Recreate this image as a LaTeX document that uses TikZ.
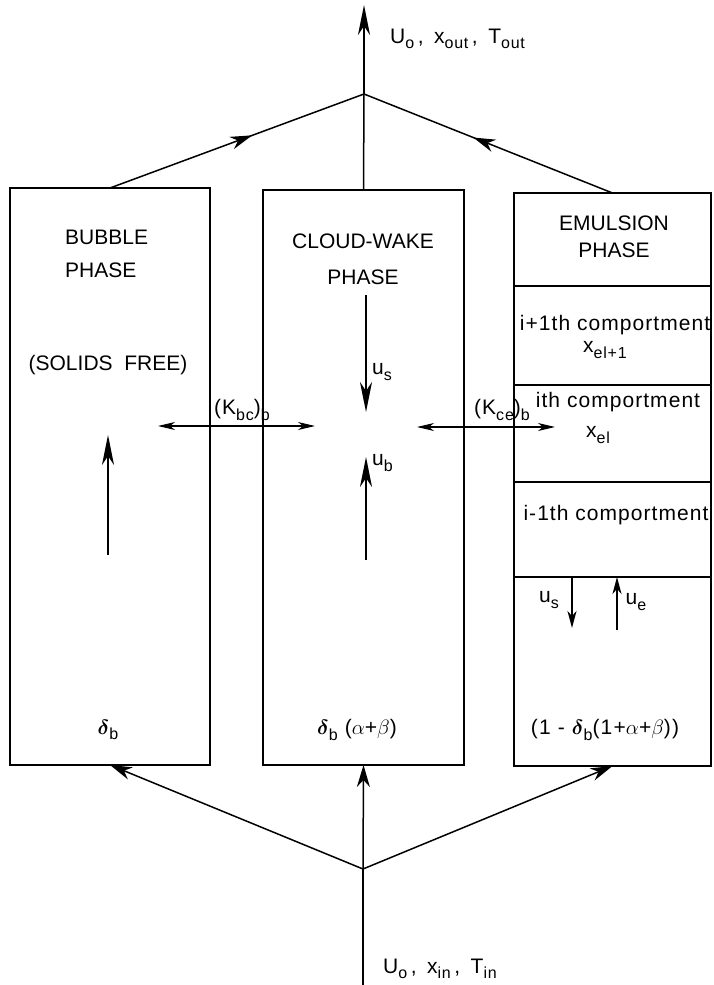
\documentclass[tikz,border=0pt]{standalone}
\usepackage{amsmath}
\usepackage{fontspec}
\setmainfont{Liberation Sans}
\usetikzlibrary{arrows.meta, positioning, decorations.markings}
\tikzset{
  phasebox/.style={rectangle, draw=black, line width=1.8pt, inner sep=0pt, outer sep=0pt},
  compbox/.style={phasebox, minimum width=197pt},
  bigtip/.style={-{Stealth[length=30pt, width=12pt, inset=9pt]}, line width=1.5pt},
  flow/.style={-{Stealth[length=22pt, width=13pt, inset=7pt]}, line width=1.5pt},
  smalltip/.style={-{Stealth[length=17pt, width=9pt, inset=5pt]}, line width=1.5pt},
  exch/.style={{Stealth[length=17pt, width=8pt, inset=5pt]}-{Stealth[length=17pt, width=8pt, inset=5pt]}, line width=1.1pt},
  midflow/.style={line width=1.5pt, postaction={decorate},
    decoration={markings, mark=at position 0.56 with {\arrow{Stealth[length=22pt, width=13pt, inset=7pt]}}}},
  plain/.style={line width=1.5pt},
  caption/.style={font=\fontsize{21}{33}\selectfont, inner sep=0pt, align=center},
  comptext/.style={font=\fontsize{21}{25}\selectfont\addfontfeatures{LetterSpace=5}, inner sep=0pt},
  mathlabel/.style={font=\fontsize{21}{25}\selectfont\addfontfeatures{LetterSpace=6}, inner sep=0pt},
}
\newcommand{\sbs}[1]{\raisebox{-0.5ex}{\fontsize{16}{16}\selectfont #1}}

\begin{document}
\begin{tikzpicture}[x=1pt, y=-1pt]
  \useasboundingbox (0,0) rectangle (714,985);

  %% Phase columns
  \node[phasebox, minimum width=200pt, minimum height=577pt] (bubble) at (110,476.5) {};
  \node[phasebox, minimum width=201pt, minimum height=575pt] (cloud) at (363.5,477.5) {};

  %% Emulsion phase, stacked compartments
  \node[compbox, minimum height=93pt] (emhead) at (612.5,239.5) {};
  \node[compbox, minimum height=99pt, below=0pt of emhead] (compup) {};
  \node[compbox, minimum height=97pt, below=0pt of compup] (compi) {};
  \node[compbox, minimum height=95pt, below=0pt of compi] (compdown) {};
  \node[compbox, minimum height=189pt, below=0pt of compdown] (embot) {};

  %% Captions
  \node[caption, align=left, anchor=north west] (bubcap) at (65,230) {BUBBLE\\PHASE};
  \node[caption] (solids) at (108,365) {(SOLIDS\ \ FREE)};
  \node[caption, font=\fontsize{21}{36}\selectfont] (cloudcap) at (363,259) {CLOUD-WAKE\\PHASE};
  \node[caption, font=\fontsize{21}{27}\selectfont] (emcap) at (614,237) {EMULSION\\PHASE};

  %% Compartment texts
  \node[comptext] (upname) at (615,325) {i+1th comportment};
  \node[comptext] (upx) at (605,350) {x\sbs{el+1}};
  \node[comptext] (iname) at (618,402) {ith comportment};
  \node[comptext] (ix) at (598,435) {x\sbs{el}};
  \node[comptext] (downname) at (616,515) {i-1th comportment};

  %% Inner flows
  \coordinate (bubfoot) at (108,555);
  \coordinate (bubtip) at (108,435);
  \coordinate (cloudus) at (366,295);
  \coordinate (cloudustip) at (366,412);
  \coordinate (cloudub) at (366,560);
  \coordinate (cloudubtip) at (366,457);
  \draw[bigtip] (bubfoot) -- (bubtip);
  \draw[bigtip] (cloudus) -- (cloudustip);
  \draw[bigtip] (cloudub) -- (cloudubtip);
  \node[comptext, anchor=west] (uslbl) at (372,372) {u\sbs{s}};
  \node[comptext, anchor=west] (ublbl) at (372,463) {u\sbs{b}};

  \coordinate (emus) at (572,577);
  \coordinate (emustip) at (572,628);
  \coordinate (emue) at (617,630);
  \coordinate (emuetip) at (617,577);
  \draw[smalltip] (emus) -- (emustip);
  \draw[smalltip] (emue) -- (emuetip);
  \node[comptext] (emuslbl) at (549,600) {u\sbs{s}};
  \node[comptext] (emuelbl) at (636,602) {u\sbs{e}};

  %% Interphase exchange
  \coordinate (kbcl) at (158,426);
  \coordinate (kbcr) at (315,426);
  \coordinate (kcel) at (417,427);
  \coordinate (kcer) at (555,427);
  \draw[exch] (kbcl) -- (kbcr);
  \draw[exch] (kcel) -- (kcer);
  \node[comptext] (kbc) at (242,410) {(K\sbs{bc})\sbs{b}};
  \node[comptext] (kce) at (502,410) {(K\sbs{ce})\sbs{b}};

  %% Volume fractions
  \node[mathlabel] (fracb) at (108,730) {$\boldsymbol{\delta}$\sbs{b}};
  \node[mathlabel] (fracc) at (357,730) {$\boldsymbol{\delta}$\sbs{b} ($\alpha$+$\beta$)};
  \node[mathlabel] (frace) at (605,730) {(1 - $\boldsymbol{\delta}$\sbs{b}(1+$\alpha$+$\beta$))};

  %% Feed and exit streams
  \coordinate (jtop) at (364,94);
  \coordinate (outlet) at (364,5);
  \coordinate (jbot) at (363,869);
  \coordinate (inlet) at (363,985);
  \draw[plain] (cloud.north) -- (jtop);
  \draw[bigtip] (jtop) -- (outlet);
  \draw[midflow] (bubble.north) -- (jtop);
  \draw[midflow] (emhead.north) -- (jtop);
  \draw[plain] (inlet) -- (jbot);
  \draw[flow] (jbot) -- (cloud.south);
  \draw[flow] (jbot) -- (bubble.south);
  \draw[flow] (jbot) -- (embot.south);

  \node[comptext, anchor=base west] (outlbl) at (390,43) {U\sbs{o}\,,\enspace x\sbs{out}\,,\enspace T\sbs{out}};
  \node[comptext, anchor=base west] (inlbl) at (383,973) {U\sbs{o}\,,\enspace x\sbs{in}\,,\enspace T\sbs{in}};

\end{tikzpicture}
\end{document}
